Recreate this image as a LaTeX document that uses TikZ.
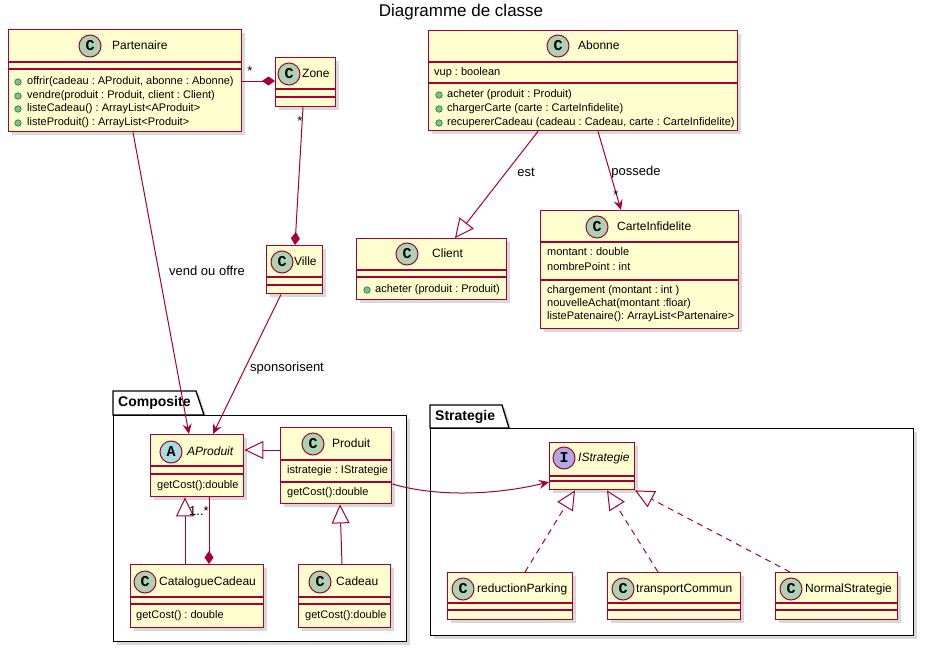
\documentclass[tikz,border=0pt]{standalone}
\usepackage{fontspec}
\setmainfont{Liberation Sans}
\newfontfamily\badgefont{Liberation Mono}
\usepackage{tikz}
\usetikzlibrary{arrows.meta,shadows}
\definecolor{umlred}{RGB}{168,0,54}
\definecolor{umlyellow}{RGB}{254,254,206}
\definecolor{cgreen}{RGB}{173,209,178}
\definecolor{cblue}{RGB}{169,220,223}
\definecolor{cpurple}{RGB}{180,167,229}
\definecolor{pubgreen}{RGB}{132,190,132}
\definecolor{pubdark}{RGB}{3,128,72}
\frenchspacing

\begin{document}
\begin{tikzpicture}[x=1pt, y=-1pt,
    cls/.style={draw=umlred, fill=umlyellow, line width=1.4pt, inner sep=0,
                drop shadow={shadow xshift=3pt, shadow yshift=-3pt, opacity=0.3}},
    pkg/.style={draw=black, fill=white, line width=1.3pt,
                drop shadow={shadow xshift=3pt, shadow yshift=-3pt, opacity=0.3}},
    sep/.style={draw=umlred, line width=1.4pt},
    badge/.style={circle, draw=umlred, line width=1pt, minimum size=22pt, inner sep=0,
                  font=\badgefont\fontsize{15}{15}\selectfont\bfseries},
    cname/.style={anchor=west, inner sep=0, text height=9pt, text depth=2.5pt,
                  font=\fontsize{12}{14}\selectfont},
    mem/.style={anchor=west, inner sep=0, text height=8pt, text depth=2.3pt,
                font=\fontsize{11}{13}\selectfont},
    pub/.style={circle, fill=pubgreen, draw=pubdark, line width=0.6pt,
                minimum size=6.5pt, inner sep=0},
    lbl/.style={inner sep=0, font=\fontsize{13}{15}\selectfont},
    assoc/.style={umlred, line width=1pt, -{Stealth[length=10pt, width=9pt, inset=3.5pt]}},
    comp/.style={umlred, line width=1pt, -{Diamond[length=13pt, width=9pt]}},
    gen/.style={umlred, line width=1pt, -{Triangle[length=19pt, width=18pt, fill=white]}},
    real/.style={gen, dash pattern=on 6pt off 5pt},
  ]
    \useasboundingbox (0,0) rectangle (929,648);
    \node[font=\fontsize{17}{20}\selectfont, text height=12pt, text depth=3.5pt] (title) at (461,12) {Diagramme de classe};

    % packages
    \draw[pkg] (113,415) -- (113,391) -- (196,391) -- (204,415) -- cycle;
    \node[pkg, minimum width=293pt, minimum height=226pt, anchor=north west] (compo) at (113,415) {};
    \node[anchor=west, inner sep=0, font=\fontsize{14}{16}\selectfont\bfseries] (compolbl) at (118,403) {Composite};
    \draw[pkg] (430,428) -- (430,405) -- (502,405) -- (509,428) -- cycle;
    \node[pkg, minimum width=483pt, minimum height=207pt, anchor=north west] (strat) at (430,428) {};
    \node[anchor=west, inner sep=0, font=\fontsize{14}{16}\selectfont\bfseries] (stratlbl) at (435,417) {Strategie};

    % classes
    \node[cls, minimum width=233pt, minimum height=102pt, anchor=north west] (part)    at (8,29)    {};
    \node[cls, minimum width=60pt,  minimum height=49pt,  anchor=north west] (zone)    at (275,57)  {};
    \node[cls, minimum width=56pt,  minimum height=48pt,  anchor=north west] (ville)   at (266,245) {};
    \node[cls, minimum width=309pt, minimum height=100pt, anchor=north west] (abon)    at (428,30)  {};
    \node[cls, minimum width=150pt, minimum height=61pt,  anchor=north west] (client)  at (356,238) {};
    \node[cls, minimum width=198pt, minimum height=118pt, anchor=north west] (carte)   at (540,210) {};
    \node[cls, minimum width=93pt,  minimum height=62pt,  anchor=north west] (aprod)   at (150,434) {};
    \node[cls, minimum width=111pt, minimum height=76pt,  anchor=north west] (produit) at (280,427) {};
    \node[cls, minimum width=133pt, minimum height=63pt,  anchor=north west] (catal)   at (130,564) {};
    \node[cls, minimum width=92pt,  minimum height=63pt,  anchor=north west] (cadeau)  at (298,564) {};
    \node[cls, minimum width=85pt,  minimum height=47pt,  anchor=north west] (istrat)  at (549,442) {};
    \node[cls, minimum width=125pt, minimum height=47pt,  anchor=north west] (redpark) at (447,572) {};
    \node[cls, minimum width=133pt, minimum height=47pt,  anchor=north west] (transp)  at (607,572) {};
    \node[cls, minimum width=122pt, minimum height=47pt,  anchor=north west] (normal)  at (775,572) {};

    \foreach \n/\a/\b in {part/62/69, zone/89/97, ville/277/285, abon/62/83, client/270/277,
                          carte/242/280, aprod/466/474, produit/460/482, catal/597/604,
                          cadeau/597/604, istrat/476/481, redpark/603/610, transp/603/610,
                          normal/603/610} {
      \draw[sep] (\n.west |- 0,\a) -- (\n.east |- 0,\a);
      \draw[sep] (\n.west |- 0,\b) -- (\n.east |- 0,\b);
    }

    \foreach \cx/\cy/\nx/\txt in {90/46/112/Partenaire, 289/74/302/Zone, 282/262/294/Ville,
                                  558/46/578/Abonne, 407/254/432/Client, 597/227/617/CarteInfidelite,
                                  313/444/332/Produit, 145/582/159/CatalogueCadeau, 320/582/336/Cadeau,
                                  463/589/477/reductionParking, 623/589/636/transportCommun,
                                  791/589/805/NormalStrategie} {
      \node[badge, fill=cgreen] (b-\txt) at (\cx,\cy) {C};
      \node[cname] (n-\txt) at (\nx,\cy) {\txt};
    }
    \node[badge, fill=cblue] (b-AProduit) at (171,452) {A};
    \node[cname, font=\fontsize{12}{14}\selectfont\itshape] (n-AProduit) at (187,452) {AProduit};
    \node[badge, fill=cpurple] (b-IStrategie) at (564,458) {I};
    \node[cname, font=\fontsize{12}{14}\selectfont\itshape] (n-IStrategie) at (578,458) {IStrategie};

    % members
    \foreach \y in {82,96,109,123} \node[pub] (pp-\y) at (18,\y) {};
    \node[mem] (part-m1) at (27,82)  {offrir(cadeau : AProduit, abonne : Abonne)};
    \node[mem] (part-m2) at (27,96)  {vendre(produit : Produit, client : Client)};
    \node[mem] (part-m3) at (27,109) {listeCadeau() : ArrayList<AProduit>};
    \node[mem] (part-m4) at (27,123) {listeProduit() : ArrayList<Produit>};

    \node[mem] (abon-a1) at (434,73) {vup : boolean};
    \foreach \y in {95,109,123} \node[pub] (pa-\y) at (439,\y) {};
    \node[mem] (abon-m1) at (447,95)  {acheter (produit : Produit)};
    \node[mem] (abon-m2) at (447,109) {chargerCarte (carte : CarteInfidelite)};
    \node[mem] (abon-m3) at (447,123) {recupererCadeau (cadeau : Cadeau, carte : CarteInfidelite)};

    \node[pub] (pc-290) at (367,290) {};
    \node[mem] (client-m1) at (375,290) {acheter (produit : Produit)};

    \node[mem] (carte-a1) at (547,253) {montant : double};
    \node[mem] (carte-a2) at (547,268) {nombrePoint : int};
    \node[mem] (carte-m1) at (547,291) {chargement (montant : int )};
    \node[mem] (carte-m2) at (547,304) {nouvelleAchat(montant :floar)};
    \node[mem] (carte-m3) at (547,317) {listePatenaire(): ArrayList<Partenaire>};

    \node[mem] (aprod-m1)   at (157,486) {getCost():double};
    \node[mem] (produit-a1) at (287,471) {istrategie : IStrategie};
    \node[mem] (produit-m1) at (287,493) {getCost():double};
    \node[mem] (catal-m1)   at (136,616) {getCost() : double};
    \node[mem] (cadeau-m1)  at (305,616) {getCost():double};

    % relations
    \draw[comp]  (part.east |- 0,81) -- (zone.west |- 0,81);
    \node[lbl] (m1) at (250,71) {*};
    \draw[comp]  (zone.south -| 303,0) -- (ville.north -| 295,0);
    \node[lbl] (m2) at (300,121) {*};
    \draw[assoc] (part.south -| 133,0) -- (aprod.north -| 189,0);
    \node[lbl] (l1) at (207,271) {vend ou offre};
    \draw[assoc] (ville.south -| 281,0) -- (aprod.north -| 213,0);
    \node[lbl] (l2) at (287,368) {sponsorisent};
    \draw[gen]   (abon.south -| 538,0) -- (client.north -| 455,0);
    \node[lbl] (l3) at (526,172) {est};
    \draw[assoc] (abon.south -| 598,0) -- (carte.north -| 621,0);
    \node[lbl] (l4) at (636,172) {possede};
    \node[lbl] (m3) at (616,195) {*};
    \draw[gen]   (produit.west |- 0,450) -- (aprod.east |- 0,450);
    \draw[gen]   (catal.north -| 185,0) -- (aprod.south -| 185,0);
    \draw[comp]  (aprod.south -| 209,0) -- (catal.north -| 209,0);
    \node[lbl] (m4) at (199,511) {1..*};
    \draw[gen]   (cadeau.north -| 342,0) -- (produit.south -| 340,0);
    \draw[assoc] (produit.east |- 0,484) .. controls (440,498) and (500,494) .. (istrat.west |- 0,482);
    \draw[real]  (redpark.north -| 525,0) -- (istrat.south -| 575,0);
    \draw[real]  (transp.north -| 658,0) -- (istrat.south -| 607,0);
    \draw[real]  (normal.north -| 790,0) -- (istrat.south -| 635,0);
  \end{tikzpicture}
\end{document}
